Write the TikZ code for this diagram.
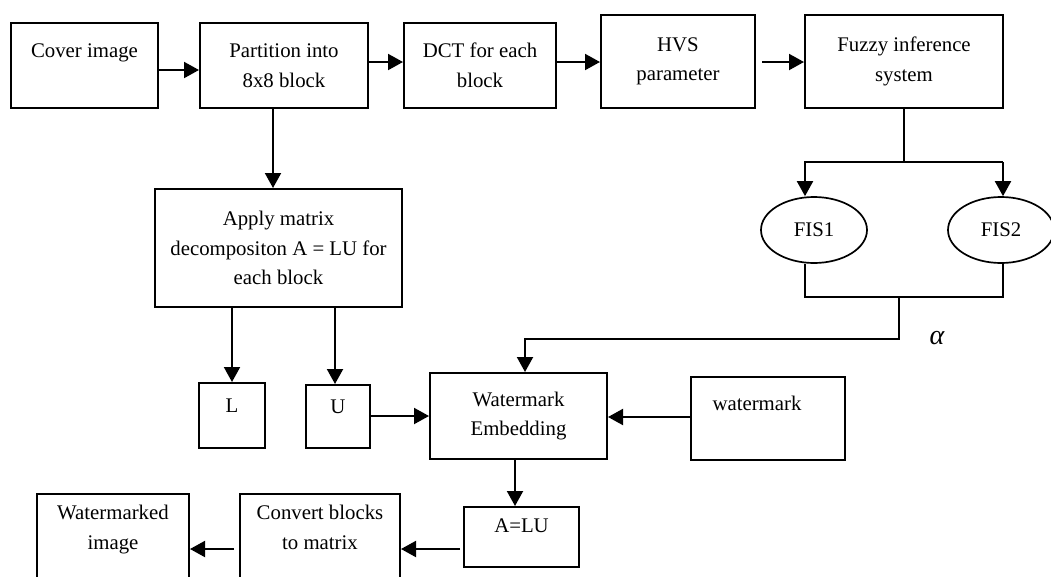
\documentclass[tikz,border=0pt]{standalone}
\usepackage{fontspec}
\setmainfont{Liberation Serif}
\usetikzlibrary{arrows.meta,shapes.geometric}

\begin{document}
\begin{tikzpicture}[x=1pt,y=-1pt,line width=2pt,>={Triangle[length=15pt,width=16pt]}]
	% text size and line spacing
	\def\fs{\fontsize{20.8}{29.5}\selectfont}
	% node style definition
	\tikzstyle{block} = [draw, rectangle, align=center, font=\fs];
	\tikzstyle{oval} = [draw, ellipse, line width=1.7pt, minimum width=106pt, minimum height=66pt, font=\fs];
	\tikzstyle{plain} = [draw=none,fill=none, font=\fontsize{28}{30}\selectfont\itshape];
	% page size
	\clip (0,0) rectangle (1051,576);
	% top row
	\node[block, minimum width=147pt, minimum height=85pt] (cover) at (84.5,65.5) {Cover image\\~};
	\node[block, minimum width=168pt, minimum height=85pt] (part) at (284,65.5) {Partition into\\8x8 block};
	\node[block, minimum width=152pt, minimum height=85pt] (dct) at (480,65.5) {DCT for each\\block};
	\node[block, minimum width=154pt, minimum height=93pt] (hvs) at (678,61.5) {HVS\\parameter};
	\node[block, minimum width=198pt, minimum height=93pt] (fuzzy) at (904,61.5) {Fuzzy inference\\system};
	% fuzzy systems
	\node[oval] (fis1) at (814,230) {FIS1};
	\node[oval] (fis2) at (1001,230) {FIS2};
	\node[plain] (alpha) at (937,338) {α};
	% decomposition
	\node[block, minimum width=247pt, minimum height=118pt] (apply) at (278.5,248) {Apply matrix\\decompositon A = LU for\\each block};
	\node[block, minimum width=66pt, minimum height=65pt] (L) at (232,415.5) {L\\[-10pt]~};
	\node[block, minimum width=64pt, minimum height=63pt] (U) at (338,416.5) {U\\[-10pt]~};
	\node[block, minimum width=177pt, minimum height=86pt] (emb) at (518.5,416) {Watermark\\Embedding};
	\node[block, minimum width=154pt, minimum height=83pt] (wm) at (768,418.5) {watermark\kern22pt\\~};
	% bottom row
	\node[block, minimum width=115pt, minimum height=60pt] (alu) at (521.5,537) {A=LU\\[-6pt]~};
	\node[block, minimum width=160pt, minimum height=96pt] (conv) at (320,542) {Convert blocks\\to matrix\\~};
	\node[block, minimum width=152pt, minimum height=96pt] (wmd) at (113,542) {Watermarked\\image\\~};
	% forks
	\coordinate (forkL) at (805,162);
	\coordinate (forkR) at (1003,162);
	\coordinate (join) at (899,297);
	\coordinate (bend) at (899,339);

	\draw[->] ([yshift=-4.5pt]cover.east) -- ([yshift=-4.5pt]part.west);
	\draw[->] ([yshift=3.5pt]part.east) -- ([yshift=3.5pt]dct.west);
	\draw[->] ([yshift=3.5pt]dct.east) -- ([yshift=3.5pt]dct.east -| hvs.west);
	\draw[->, shorten <=6pt] ([yshift=-0.5pt]hvs.east) -- ([yshift=-0.5pt]fuzzy.west);
	\draw[->] ([xshift=-11pt]part.south) -- ([xshift=-5.5pt]apply.north);
	\draw (fuzzy.south) -- (fuzzy.south |- forkL);
	\draw[->] (forkR) -- (forkL) -- (forkL |- fis1.north);
	\draw[->] (forkR) -- (forkR |- fis2.north);
	\draw (forkL |- fis1.south) -- (forkL |- join) -- (forkR |- join) -- (forkR |- fis2.south);
	\draw[->] (join) -- (bend) -| ([xshift=6.5pt]emb.north);
	\draw[->] (apply.south -| L.north) -- (L.north);
	\draw[->] ([xshift=-3pt]apply.south -| U.north) -- ([xshift=-3pt]U.north);
	\draw[->] ([yshift=0.5pt]U.east) -- ([yshift=0.5pt]U.east -| emb.west);
	\draw[->] ([yshift=1.5pt]wm.west) -- ([yshift=1.5pt]wm.west -| emb.east);
	\draw[->] ([xshift=-3.5pt]emb.south) -- ([xshift=-3.5pt]emb.south |- alu.north);
	\draw[->, shorten <=3pt] ([yshift=-12pt]alu.west) -- ([yshift=-12pt]alu.west -| conv.east);
	\draw[->, shorten <=5pt] ([yshift=-7pt]conv.west) -- ([yshift=-7pt]wmd.east);
\end{tikzpicture}
\end{document}
